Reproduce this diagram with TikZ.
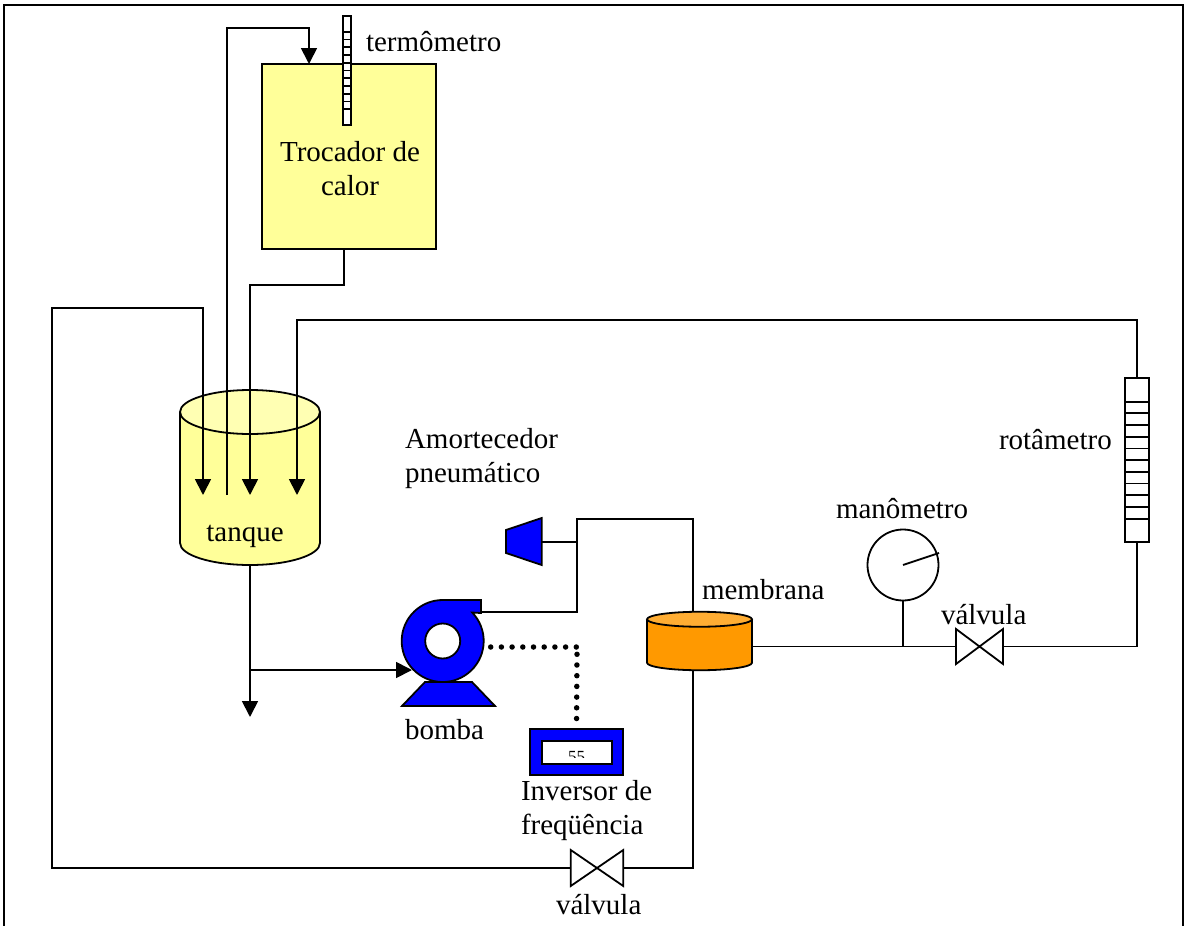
\documentclass[tikz,border=0pt]{standalone}
\usepackage{fontspec}
\setmainfont{Liberation Serif}
\usepackage{xcolor}
\usetikzlibrary{arrows.meta}
\definecolor{paleyellow}{RGB}{255,255,153}
\definecolor{lidyellow}{RGB}{255,255,179}
\definecolor{pumpblue}{RGB}{0,0,255}
\definecolor{memorange}{RGB}{255,153,0}
\definecolor{lidorange}{RGB}{255,173,51}
\tikzset{
  every node/.style={font=\fontsize{29}{33.5}\selectfont,inner sep=0pt,outer sep=0pt},
  pipe/.style={line width=1.8pt},
  flow/.style={pipe,-{Triangle[length=16pt,width=16pt]}},
  wiring/.style={line width=5.5pt,line cap=round,dash pattern=on 0pt off 10.7pt},
  blueshape/.style={draw,pipe,fill=pumpblue},
  valve/.style={minimum width=47pt,minimum height=35pt},
  scalebar/.style={draw,pipe,fill=white},
  textblock/.style={align=left},
}
\begin{document}
\begin{tikzpicture}[x=1pt,y=-1pt]
  \useasboundingbox (0,0) rectangle (1184,926);
  % frame
  \draw[pipe] (4,926) -- (4,5) -- (1183,5) -- (1183,926);

  % vessels
  \node[draw,pipe,fill=paleyellow,minimum width=174pt,minimum height=185pt] (trocador) at (349,156.5) {};
  \node[minimum width=140pt,minimum height=175pt] (tanque) at (250,477.5) {};
  \node[minimum width=105pt,minimum height=58.5pt] (membrana) at (699.5,641) {};
  \foreach \n/\rx/\ry/\body/\lid in {tanque/70/22/paleyellow/lidyellow,membrana/52.5/7.5/memorange/lidorange}{
    \draw[pipe,fill=\body] ([yshift=-\ry pt]\n.north west)
       -- ([yshift=\ry pt]\n.south west) arc[start angle=180,end angle=360,x radius=\rx pt,y radius=\ry pt]
       -- ([yshift=-\ry pt]\n.north east);
    \draw[pipe,fill=\lid] ([yshift=-\ry pt]\n.north) ellipse[x radius=\rx pt,y radius=\ry pt];
  }
  \node[draw,pipe,circle,minimum size=71pt,fill=white] (manometro) at (903,565) {};

  % pump
  \node[circle,minimum size=82pt] (pump) at (442.7,641) {};
  \coordinate (pumpout) at (481,612);
  \draw[blueshape] (425,682) -- (472,682) -- (495,706) -- (402,706) -- cycle;
  \draw[blueshape] (pump.north) -- (481,600) -- (481,613) -- (pump.44) arc[start angle=44,end angle=-270,radius=41pt] -- cycle;
  \node[draw,pipe,circle,minimum size=35pt,fill=white] (rotor) at (pump) {};

  % damper, inverter
  \coordinate (dampport) at (541.7,542);
  \draw[blueshape] (506,530) -- (541.7,518) -- (541.7,565) -- (506,553) -- cycle;
  \node[blueshape,minimum width=93pt,minimum height=46pt] (inversor) at (576.5,752) {};
  \node[draw,pipe,fill=white,minimum width=70pt,minimum height=23pt] (visor) at (577,752.5) {};
  \begin{scope}
    \clip (visor.north west) rectangle (612,757);
    \node[font=\fontsize{17}{17}\selectfont,anchor=north] (display) at (576.5,751.7) {55};
  \end{scope}

  % valves
  \node[valve,minimum width=52.5pt,minimum height=36pt] (valvula1) at (597,868) {};
  \node[valve] (valvula2) at (979.5,646.5) {};
  \foreach \v in {valvula1,valvula2}
    \draw[pipe,fill=white] (\v.north west) -- (\v.south east) -- (\v.north east) -- (\v.south west) -- cycle;

  % junctions and free ends
  \coordinate (retorno) at (227,495);
  \coordinate (saida1) at (203,495);
  \coordinate (saida2) at (250,495);
  \coordinate (saida3) at (297,495);
  \coordinate (dreno) at (250,717);
  \coordinate (te1) at (250,670);
  \coordinate (te2) at (577,542);
  \coordinate (te3) at (903,646.5);

  % pipes
  \draw[flow] (retorno) |- (309,28) -- (309,64);
  \draw[flow] (344,249) |- (250,285) -- (saida2);
  \draw[flow] (valvula1.west) -| (52,308) -| (saida1);
  \draw[pipe] (valvula1.east) -| (693,670);
  \draw[pipe] (693,612) |- (577,519) -- (te2) |- (pumpout);
  \draw[pipe] (te2) -- (dampport);
  \draw[flow] (250,565) -- (dreno);
  \draw[flow] (te1) -- (412,670);
  \draw[pipe] (752,646.5) -- (valvula2.west);
  \draw[pipe] (valvula2.east) -| (1137,542);
  \draw[pipe] (manometro.south) -- (te3);
  \draw[flow] (1137,378) |- (297,320) -- (saida3);
  \draw[pipe] (manometro.center) -- (939,553);
  \draw[wiring] (490.7,647) -- (577,647);
  \draw[wiring] (577,654.3) -- (inversor.north);

  % thermometer
  \node[scalebar,minimum width=8pt,minimum height=109pt] (termometro) at (347,70.5) {};
  \foreach \i in {0,...,10}
    \draw[pipe] (343,31.7+7.76*\i) -- (351,31.7+7.76*\i);

  % rotameter
  \node[scalebar,minimum width=24pt,minimum height=164pt] (rotametro) at (1137,460) {};
  \foreach \i in {0,...,10}
    \draw[pipe] (1125,401.6+11.7*\i) -- (1149,401.6+11.7*\i);

  % labels
  \node[anchor=base,align=center] (ltroc) at (350,195) {Trocador de\\calor};
  \node[anchor=base west] (ltermo) at (366,51) {termômetro};
  \node[anchor=base] (ltanque) at (245,541) {tanque};
  \node[anchor=base west,textblock] (lamort) at (405,482) {Amortecedor\\pneumático};
  \node[anchor=base west] (lrota) at (999,449) {rotâmetro};
  \node[anchor=base west] (lmano) at (836,518) {manômetro};
  \node[anchor=base west] (lmemb) at (702,599) {membrana};
  \node[anchor=base west] (lval2) at (941,624) {válvula};
  \node[anchor=base west] (lbomba) at (405,739) {bomba};
  \node[anchor=base west,textblock] (linv) at (521,834) {Inversor de\\freqüência};
  \node[anchor=base west] (lval1) at (556,914) {válvula};
\end{tikzpicture}
\end{document}
